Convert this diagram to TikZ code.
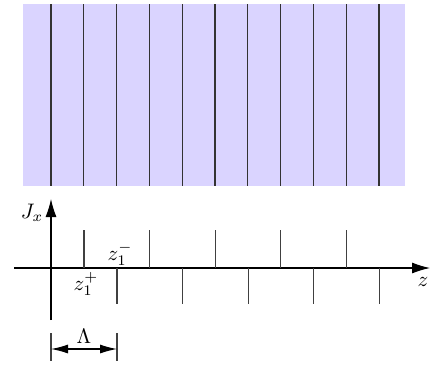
\documentclass[tikz,border=0pt]{standalone}
\usepackage{graphicx}
\usetikzlibrary{arrows.meta}
\definecolor{slab}{RGB}{218,212,255}
\newcommand{\bigmath}[1]{\scalebox{2.1}{$#1$}}
\begin{document}
\begin{tikzpicture}[x=1pt,y=-1pt,
  grating/.style={line width=1.2pt,black!80},
  tick/.style={line width=1.1pt,black!75},
  axis/.style={line width=1.1pt,-{Latex[length=18pt,width=11pt]}},
  dim/.style={line width=1.1pt,{Latex[length=17pt,width=9pt]}-{Latex[length=17pt,width=9pt]}},
  lbl/.style={inner sep=0pt}]
\useasboundingbox (0,0) rectangle (430,364);
% slab
\fill[slab] (23,4) rectangle (405,186);
\foreach \i in {0,...,10} {
  \draw[grating] ({51+32.8*\i},4) -- ({51+32.8*\i},186);
}
% axes
\coordinate (hs) at (14,268);
\coordinate (he) at (430,268);
\coordinate (vs) at (51,320);
\coordinate (ve) at (51,199);
\draw[axis] (hs) -- (he);
\draw[axis] (vs) -- (ve);
\node[lbl] (jx) at (32,213) {\bigmath{J_x}};
\node[lbl] (zl) at (423,282) {\bigmath{z}};
% ticks
\foreach \i in {0,...,4} {
  \draw[tick] ({84+65.6*\i},230) -- ({84+65.6*\i},268);
  \draw[tick] ({117+65.6*\i},268) -- ({117+65.6*\i},304);
}
\node[lbl] (zp) at (86,284) {\bigmath{z_1^+}};
\node[lbl] (zm) at (120,254) {\bigmath{z_1^-}};
% Lambda
\coordinate (la) at (51,349);
\coordinate (lb) at (117,349);
\draw[tick] (51,333) -- (51,361);
\draw[tick] (117,333) -- (117,361);
\draw[dim] (la) -- (lb);
\node[lbl] (lam) at (84,336) {\bigmath{\Lambda}};
\end{tikzpicture}
\end{document}
